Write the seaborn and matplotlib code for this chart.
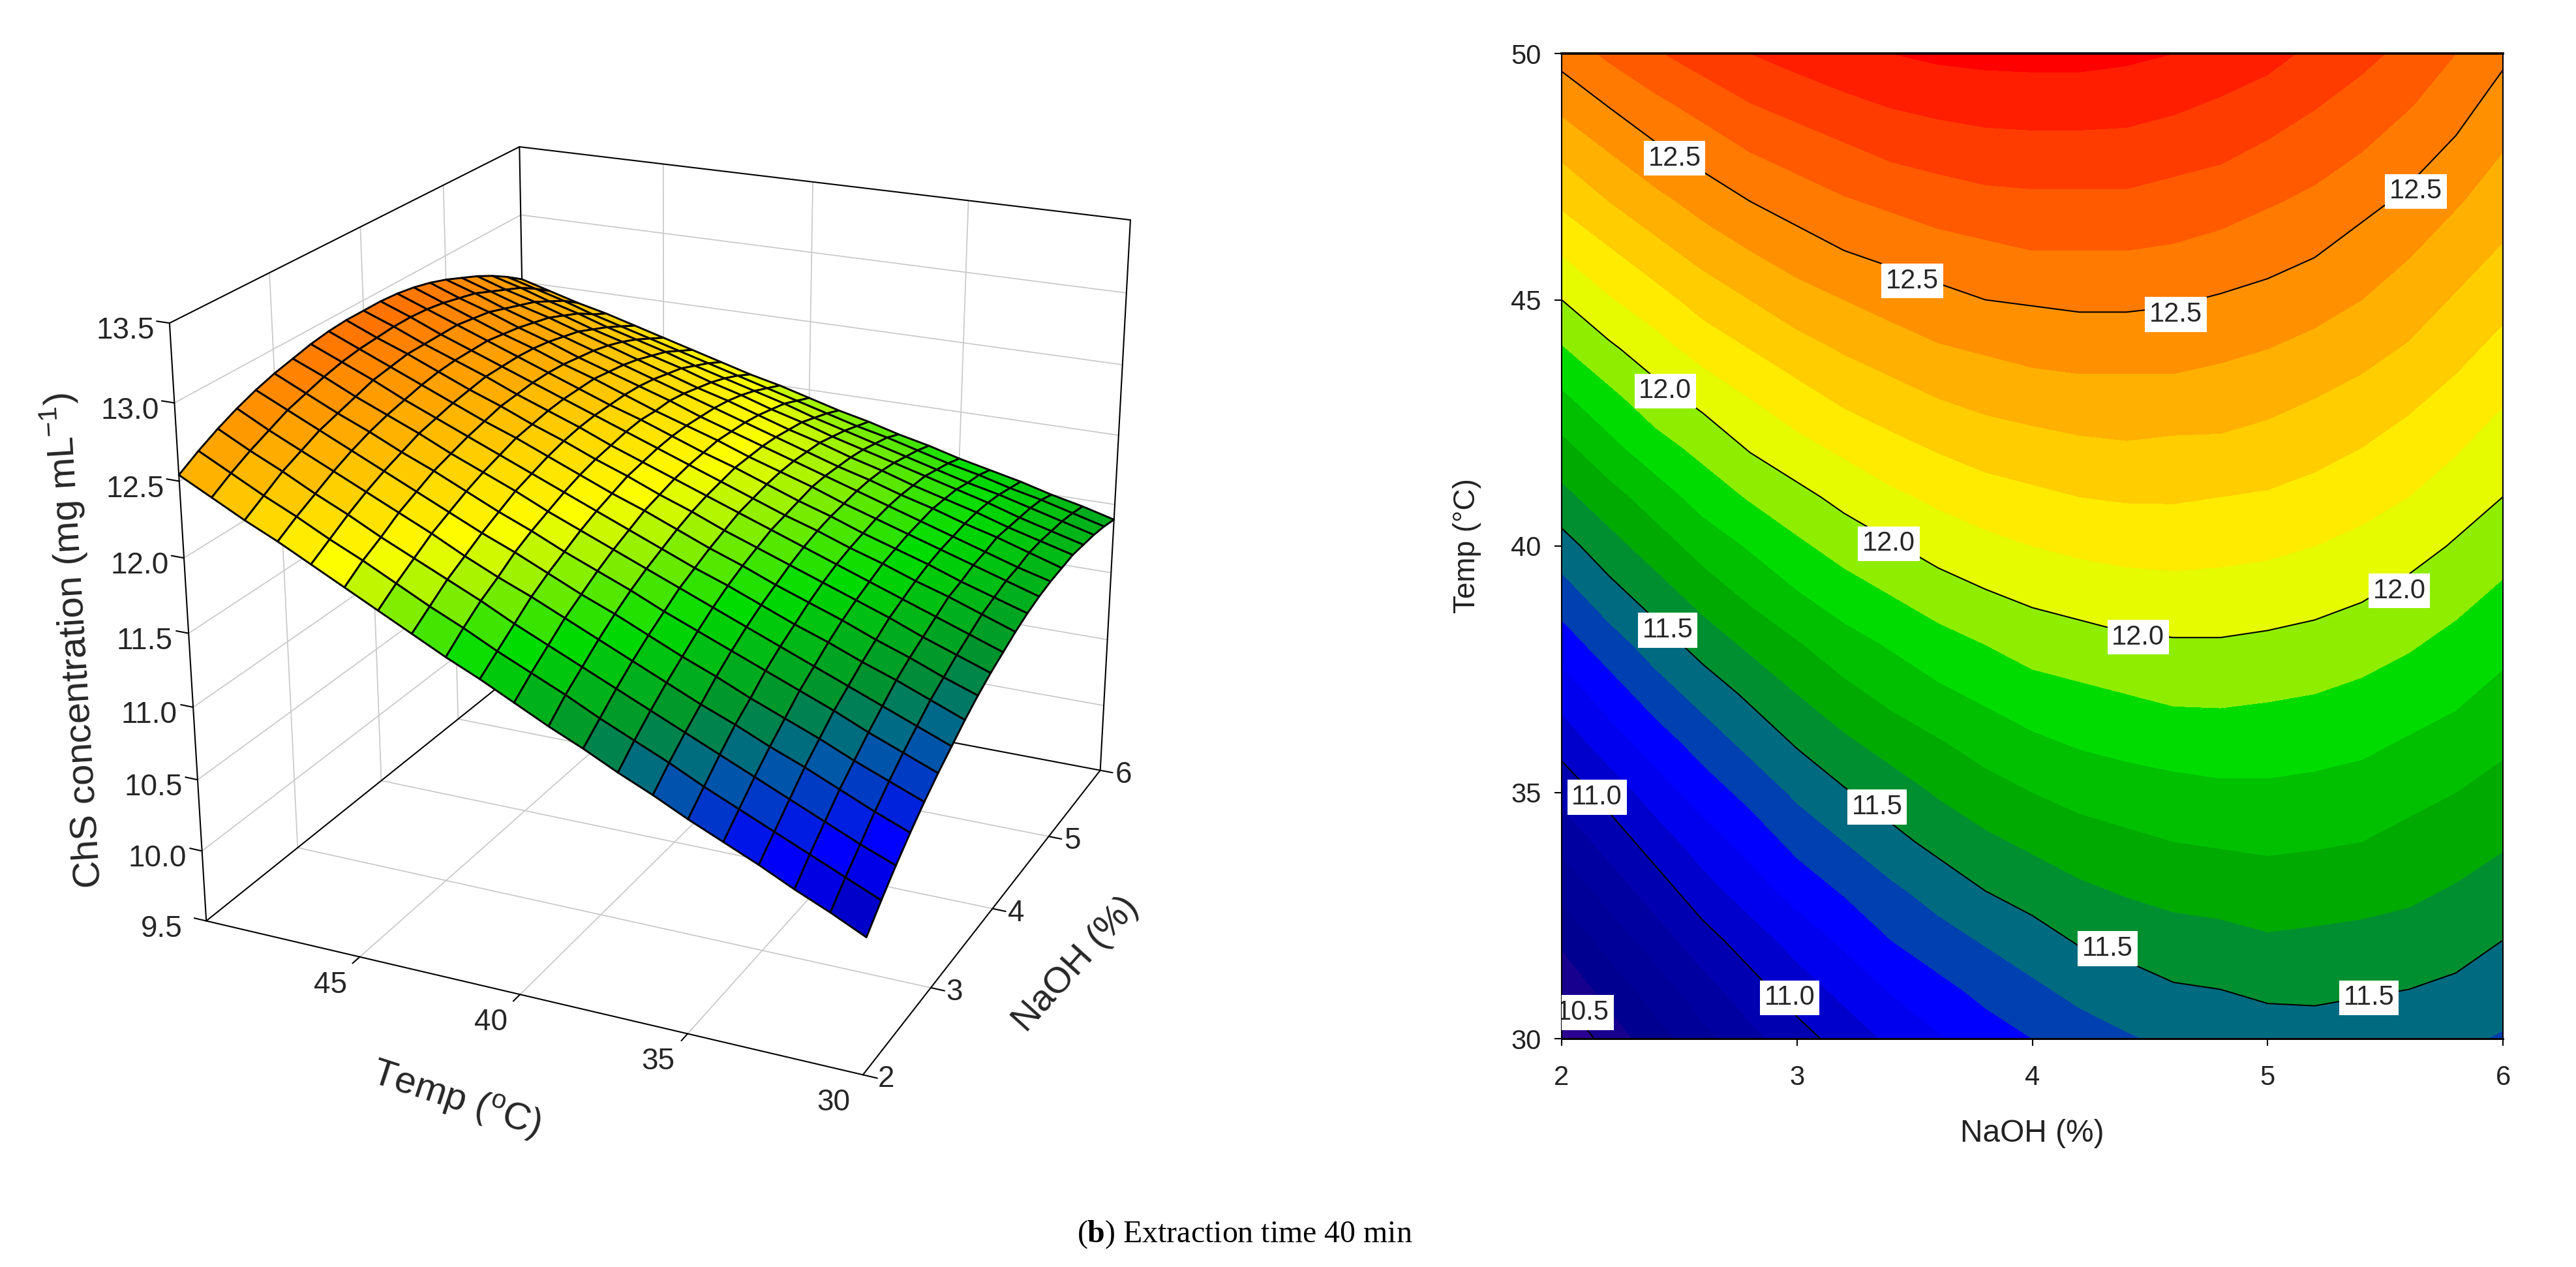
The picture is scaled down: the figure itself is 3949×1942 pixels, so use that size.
import numpy as np, matplotlib
matplotlib.use('Agg')
import matplotlib.pyplot as plt
import seaborn as sns
from matplotlib.colors import LinearSegmentedColormap, Normalize
from mpl_toolkits.mplot3d import proj3d

naoh_grid=[2.0,2.2,2.4,2.6,2.8,3.0,3.2,3.4,3.6,3.8,4.0,4.2,4.4,4.6,4.8,5.0,5.2,5.4,5.6,5.8,6.0]
temp_grid=[30,31,32,33,34,35,36,37,38,39,40,41,42,43,44,45,46,47,48,49,50]
# ChS concentration (mg/mL): one row per temperature, one column per NaOH level
conc_rows=[
[10.41,10.54,10.66,10.77,10.87,10.96,11.04,11.12,11.19,11.25,11.30,11.35,11.39,11.42,11.44,11.45,11.46,11.45,11.44,11.42,11.39],
[10.52,10.64,10.75,10.86,10.96,11.05,11.13,11.21,11.27,11.33,11.38,11.43,11.46,11.49,11.50,11.52,11.52,11.51,11.50,11.48,11.45],
[10.62,10.74,10.85,10.96,11.05,11.14,11.22,11.30,11.36,11.41,11.46,11.51,11.53,11.56,11.57,11.59,11.58,11.57,11.56,11.54,11.50],
[10.73,10.84,10.95,11.06,11.15,11.24,11.31,11.38,11.44,11.50,11.54,11.58,11.61,11.63,11.64,11.65,11.65,11.64,11.62,11.59,11.56],
[10.83,10.94,11.05,11.15,11.24,11.33,11.40,11.47,11.53,11.58,11.62,11.66,11.68,11.70,11.71,11.72,11.71,11.70,11.67,11.65,11.61],
[10.93,11.04,11.15,11.25,11.33,11.42,11.49,11.55,11.61,11.66,11.70,11.73,11.75,11.77,11.78,11.78,11.77,11.76,11.73,11.70,11.66],
[11.04,11.15,11.25,11.34,11.43,11.51,11.58,11.64,11.69,11.74,11.78,11.81,11.83,11.84,11.85,11.85,11.84,11.82,11.79,11.76,11.72],
[11.14,11.25,11.35,11.44,11.52,11.60,11.67,11.73,11.78,11.82,11.86,11.88,11.90,11.92,11.92,11.91,11.90,11.88,11.85,11.82,11.77],
[11.25,11.35,11.45,11.54,11.62,11.69,11.76,11.81,11.86,11.90,11.94,11.96,11.98,11.99,11.99,11.98,11.97,11.94,11.91,11.87,11.83],
[11.35,11.46,11.55,11.64,11.72,11.79,11.85,11.90,11.95,11.99,12.02,12.04,12.06,12.06,12.06,12.05,12.03,12.01,11.97,11.93,11.88],
[11.46,11.56,11.65,11.74,11.81,11.88,11.94,11.99,12.04,12.07,12.10,12.12,12.13,12.14,12.13,12.12,12.10,12.07,12.04,11.99,11.94],
[11.57,11.66,11.75,11.84,11.91,11.97,12.03,12.08,12.12,12.16,12.18,12.20,12.21,12.21,12.20,12.19,12.17,12.14,12.10,12.05,12.00],
[11.67,11.77,11.86,11.93,12.01,12.07,12.12,12.17,12.21,12.24,12.26,12.28,12.29,12.28,12.28,12.26,12.23,12.20,12.16,12.11,12.05],
[11.78,11.87,11.96,12.03,12.10,12.16,12.22,12.26,12.30,12.33,12.35,12.36,12.36,12.36,12.35,12.33,12.30,12.27,12.22,12.17,12.11],
[11.89,11.98,12.06,12.14,12.20,12.26,12.31,12.35,12.39,12.41,12.43,12.44,12.44,12.44,12.42,12.40,12.37,12.33,12.29,12.23,12.17],
[12.00,12.09,12.16,12.24,12.30,12.36,12.40,12.44,12.47,12.50,12.51,12.52,12.52,12.51,12.49,12.47,12.44,12.40,12.35,12.29,12.23],
[12.11,12.19,12.27,12.34,12.40,12.45,12.50,12.53,12.56,12.58,12.60,12.60,12.60,12.59,12.57,12.54,12.51,12.46,12.41,12.35,12.29],
[12.22,12.30,12.37,12.44,12.50,12.55,12.59,12.62,12.65,12.67,12.68,12.68,12.68,12.66,12.64,12.61,12.58,12.53,12.48,12.41,12.35],
[12.32,12.40,12.48,12.54,12.60,12.64,12.68,12.72,12.74,12.76,12.76,12.76,12.76,12.74,12.72,12.68,12.64,12.60,12.54,12.48,12.40],
[12.43,12.51,12.58,12.64,12.70,12.74,12.78,12.81,12.83,12.84,12.85,12.85,12.84,12.82,12.79,12.76,12.71,12.66,12.61,12.54,12.46],
[12.54,12.62,12.69,12.75,12.80,12.84,12.87,12.90,12.92,12.93,12.93,12.93,12.92,12.90,12.87,12.83,12.78,12.73,12.67,12.60,12.52],
]
temp_ticks=[30,35,40,45,50]
naoh_ticks=[2,3,4,5,6]
conc_ticks=[9.5,10.0,10.5,11.0,11.5,12.0,12.5,13.0,13.5]
contour_levels=[10.5,11.0,11.5,12.0,12.5]
band_levels=[10.3+i*0.1 for i in range(28)]
band_colors=['#3A0090','#2C0090','#18008F','#000090','#000098','#0000A0','#0000B0','#0000CC','#0000EE','#0000FF','#0040B0','#006A80',
 '#008F30','#00AA00','#00C000','#00DC00','#8FEE00','#E6FA00','#FFEB00','#FFCD00','#FFB000','#FF9100','#FF7A00','#FF5A00','#FF3C00','#FF1E00','#FF0000']
surface_stops=[(10.42,'#0000B4'),(10.75,'#0000FF'),(11.08,'#005FA0'),(11.3,'#009030'),(11.65,'#00DC00'),(12.1,'#FFFF00'),(12.4,'#FFC800'),(12.95,'#FF6A00')]
labels=[(12.5,2.48,47.87),(12.5,3.49,45.38),(12.5,4.61,44.70),(12.5,5.63,47.20),
        (12.0,2.44,43.15),(12.0,3.39,40.05),(12.0,4.45,38.15),(12.0,5.56,39.09),
        (11.5,2.45,38.29),(11.5,3.34,34.70),(11.5,4.32,31.83),(11.5,5.43,30.83),
        (11.0,2.15,34.90),(11.0,2.97,30.83),(10.5,2.09,30.53)]

sns.set_theme(style='white')
plt.rcParams['font.family']=['Liberation Sans','DejaVu Sans']
plt.rcParams['mathtext.fontset']='custom'
plt.rcParams['mathtext.rm']='Liberation Sans'
plt.rcParams['mathtext.bf']='Liberation Serif:bold'
W,H=3949,1942
fig=plt.figure(figsize=(W/300,H/300),dpi=300,facecolor='white')
px=0.24
conc=np.array(conc_rows)
Ng,Tg=np.meshgrid(naoh_grid,temp_grid)

ax=fig.add_axes([145.4/W,186.2/H,1730.5/W,1730.5/H],projection='3d',computed_zorder=False)
ax.set_xlim(50,30);ax.set_ylim(2,6);ax.set_zlim(9.5,13.5)
ax.view_init(elev=22.023,azim=-65.268)
ax.set_proj_type('persp',focal_length=0.5281)
ax.set_box_aspect((1,1.0024,0.8871),zoom=1)
ax.set_axis_off();ax.patch.set_alpha(0)
tmin,tmax=temp_ticks[0],temp_ticks[-1];nmin,nmax=naoh_ticks[0],naoh_ticks[-1];zmin,zmax=conc_ticks[0],conc_ticks[-1]
grey=dict(color='#C9C9C9',lw=0.42,zorder=1);blk=dict(color='black',lw=0.5,zorder=1.5)
for t in temp_ticks[1:-1]:
    ax.plot([t,t],[nmin,nmax],[zmin,zmin],**grey)
    ax.plot([t,t],[nmax,nmax],[zmin,zmax],**grey)
    ax.plot([t,t],[nmin,nmin-0.08],[zmin,zmin],**blk)
for n in naoh_ticks[1:-1]:
    ax.plot([tmin,tmax],[n,n],[zmin,zmin],**grey)
    ax.plot([tmax,tmax],[n,n],[zmin,zmax],**grey)
for n in naoh_ticks:
    ax.plot([tmin,tmin-0.4],[n,n],[zmin,zmin],**blk)
for z in conc_ticks[1:-1]:
    ax.plot([tmax,tmax],[nmin,nmax],[z,z],**grey)
    ax.plot([tmin,tmax],[nmax,nmax],[z,z],**grey)
for z in conc_ticks:
    ax.plot([tmax,tmax+0.4],[nmin,nmin],[z,z],**blk)
for a,b,c in [((tmax,tmax),(nmin,nmin),(zmin,zmax)),((tmax,tmax),(nmax,nmax),(zmin,zmax)),((tmin,tmin),(nmax,nmax),(zmin,zmax)),
              ((tmax,tmax),(nmin,nmax),(zmax,zmax)),((tmin,tmax),(nmax,nmax),(zmax,zmax)),
              ((tmax,tmax),(nmin,nmax),(zmin,zmin)),((tmin,tmax),(nmax,nmax),(zmin,zmin)),
              ((tmin,tmax),(nmin,nmin),(zmin,zmin)),((tmin,tmin),(nmin,nmax),(zmin,zmin))]:
    ax.plot(a,b,c,**blk)
lo,hi=surface_stops[0][0],surface_stops[-1][0]
cmap3d=LinearSegmentedColormap.from_list('surf',[((z-lo)/(hi-lo),c) for z,c in surface_stops])
ax.plot_surface(Tg,Ng,conc,cmap=cmap3d,norm=Normalize(lo,hi),rstride=1,cstride=1,edgecolor='black',linewidth=0.7,shade=False,antialiased=True,zorder=2)

M=ax.get_proj()
def lab(x,y,z,s,dx,dy):
    X,Y,_=proj3d.proj_transform(x,y,z,M)
    ax.annotate(s,xy=(X,Y),xycoords='data',xytext=(dx*px,-dy*px),textcoords='offset points',ha='center',va='center',fontsize=11,annotation_clip=False)
for z in conc_ticks: lab(tmax,nmin,z,f'{z:.1f}',-68,12)
for t in temp_ticks[:-1]: lab(t,nmin,zmin,f'{t}',-45,43)
for n in naoh_ticks: lab(tmin,n,zmin,f'{n}',36,7)

fig.text(700/W,1-1685/H,'Temp ($^{\\mathrm{o}}$C)',rotation=-18,ha='center',va='center',fontsize=14,rotation_mode='anchor')
fig.text(1649/W,1-1478/H,'NaOH (%)',rotation=48,ha='center',va='center',fontsize=13.5,rotation_mode='anchor')
fig.text(113/W,1-982/H,'ChS concentration (mg mL$^{\\mathrm{-1}}$)',rotation=93.5,ha='center',va='center',fontsize=14,rotation_mode='anchor')

ax2=fig.add_axes([2394/W,(H-1592)/H,(3837-2394)/W,(1592-82)/H])
ax2.contourf(Ng,Tg,conc,levels=band_levels,colors=sns.color_palette(band_colors,len(band_colors)))
ax2.contour(Ng,Tg,conc,levels=contour_levels,colors='black',linewidths=0.5)
for val,n,t in labels:
    ax2.text(n,t,f'{val:.1f}',ha='center',va='center',fontsize=10,clip_on=True,zorder=5,bbox=dict(facecolor='white',edgecolor='none',pad=1.6))
ax2.set_xlim(2,6);ax2.set_ylim(30,50)
ax2.set_xticks(naoh_ticks);ax2.set_yticks(temp_ticks)
ax2.tick_params(axis='both',direction='out',length=2.6,width=0.5,labelsize=10,color='black',labelcolor='#222222',left=True,bottom=True)
ax2.tick_params(axis='x',pad=7);ax2.tick_params(axis='y',pad=5)
for s in ax2.spines.values(): s.set_visible(True);s.set_color('black');s.set_linewidth(0.5)
ax2.spines['top'].set_linewidth(0.9);ax2.spines['bottom'].set_linewidth(0.7)
ax2.set_xlabel('NaOH (%)',fontsize=11.5,color='#222222',va='center');ax2.set_ylabel('Temp (°C)',fontsize=11,color='#222222',va='center')
ax2.xaxis.set_label_coords(0.5,-(1738-1592)/(1592-82),transform=ax2.transAxes)
ax2.yaxis.set_label_coords(-(2394-2249)/(3837-2394),0.5,transform=ax2.transAxes)
fig.text(1908/W,1-1892/H,'($\\mathbf{b}$) Extraction time 40 min',family='Liberation Serif',fontsize=11.5,ha='center',va='center',color='black')
fig.savefig('out.png',dpi=300)
